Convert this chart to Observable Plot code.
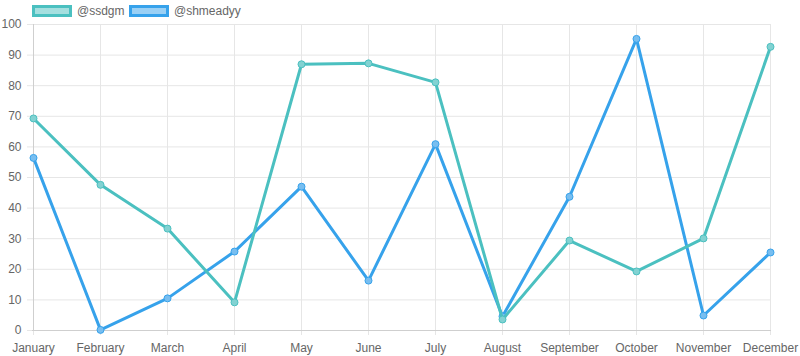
<!DOCTYPE html>
<html><head><meta charset="utf-8">
<script src="https://cdn.jsdelivr.net/npm/d3@7"></script>
<script src="https://cdn.jsdelivr.net/npm/@observablehq/plot@0.6"></script>
<style>
body{margin:0;background:#fff;font-family:"Liberation Sans",Arial,Helvetica,sans-serif;}
#legend{position:relative;height:18px;width:800px;}
.box{position:absolute;top:5px;width:40px;height:12px;box-sizing:border-box;border:3px solid;}
.lab{position:absolute;top:4px;font-size:12px;color:#666;line-height:14px;}
</style>
</head><body>
<div id="legend"></div>
<div id="chart"></div>
<script>
const months = ["January","February","March","April","May","June","July","August","September","October","November","December"];
const seriesNames = ["@ssdgm","@shmeadyy"];
const seriesColors = ["rgb(75,192,192)","rgb(54,162,235)"];
const seriesFills = ["rgba(75,192,192,0.5)","rgba(54,162,235,0.5)"];
const ssdgm = [69.3, 47.6, 33.3, 9.2, 87.0, 87.3, 81.1, 3.6, 29.4, 19.3, 30.1, 92.7];
const shmeadyy = [56.4, 0.2, 10.5, 25.8, 47.0, 16.3, 60.9, 4.6, 43.7, 95.3, 4.9, 25.5];
const yTicks = [0,10,20,30,40,50,60,70,80,90,100];

const legendPos = [{box:32, text:77},{box:129, text:174}];
const legend = document.getElementById("legend");
seriesNames.forEach((n,i)=>{
  const b = document.createElement("div");
  b.className="box"; b.style.left=legendPos[i].box+"px";
  b.style.borderColor=seriesColors[i]; b.style.background=seriesFills[i];
  legend.appendChild(b);
  const t = document.createElement("div");
  t.className="lab"; t.style.left=legendPos[i].text+"px"; t.textContent=n;
  legend.appendChild(t);
});

const rows = [];
[ssdgm, shmeadyy].forEach((arr,si)=>arr.forEach((v,mi)=>rows.push({series:seriesNames[si], month:months[mi], value:v})));
const blue = rows.filter(d=>d.series==="@shmeadyy");
const teal = rows.filter(d=>d.series==="@ssdgm");

const chart = Plot.plot({
  width: 800, height: 338,
  marginLeft: 32, marginRight: 29, marginTop: 6, marginBottom: 26,
  style: {fontSize: "12px", fontFamily: "'Liberation Sans', Arial, Helvetica, sans-serif", background: "#fff"},
  x: {type: "point", domain: months, padding: 0, label: null},
  y: {domain: [0,100], label: null},
  color: {domain: seriesNames, range: seriesColors},
  marks: [
    Plot.gridX(months, {stroke: "#e6e6e6", strokeOpacity: 1}),
    Plot.gridY(yTicks, {stroke: "#e6e6e6", strokeOpacity: 1}),
    Plot.axisX(months, {tickSize: 5, tickPadding: 8, stroke: "#e6e6e6", fill: "#666", label: null}),
    Plot.axisY(yTicks, {tickSize: 5, tickPadding: 6, stroke: "#e6e6e6", fill: "#666", label: null}),
    Plot.ruleY([0], {stroke: "#cfcfcf"}),
    Plot.ruleX([months[0]], {stroke: "#cfcfcf"}),
    Plot.line(blue, {x: "month", y: "value", stroke: "series", strokeWidth: 3}),
    Plot.dot(blue, {x: "month", y: "value", r: 3.5, stroke: "series", fill: "rgb(120,190,240)", strokeWidth: 1}),
    Plot.line(teal, {x: "month", y: "value", stroke: "series", strokeWidth: 3}),
    Plot.dot(teal, {x: "month", y: "value", r: 3.5, stroke: "series", fill: "rgb(130,210,210)", strokeWidth: 1})
  ]
});
document.getElementById("chart").appendChild(chart);
</script>
</body></html>
